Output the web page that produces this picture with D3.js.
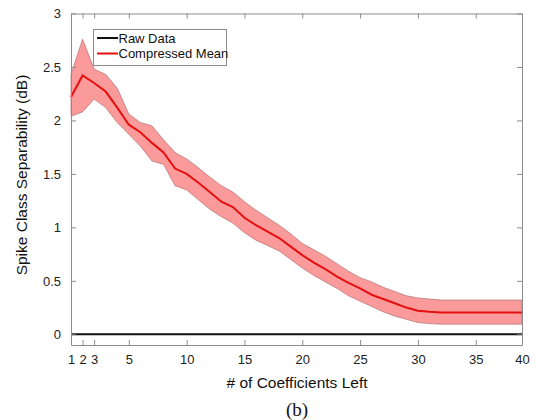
<!DOCTYPE html>
<html><head><meta charset="utf-8">
<script src="https://cdn.jsdelivr.net/npm/d3@7"></script>
<style>body{margin:0;background:#fff}svg{display:block}text{font-family:"Liberation Sans",Arial,sans-serif}</style>
</head><body><svg id="c" width="536" height="420"></svg>
<script>
// x positions are plot indices (0..39); tick labels map them to coefficient counts
const xIndex = [0,1,2,3,4,5,6,7,8,9,10,11,12,13,14,15,16,17,18,19,20,21,22,23,24,25,26,27,28,29,30,31,32,33,34,35,36,37,38,39];
const meanVals = [2.22,2.42,2.35,2.27,2.12,1.96,1.89,1.79,1.70,1.55,1.50,1.42,1.33,1.24,1.19,1.09,1.02,0.96,0.90,0.82,0.74,0.67,0.61,0.54,0.48,0.43,0.37,0.33,0.29,0.25,0.22,0.21,0.205,0.205,0.205,0.205,0.205,0.205,0.205,0.205];
const upperVals = [2.43,2.76,2.48,2.43,2.30,2.06,1.98,1.95,1.82,1.70,1.64,1.56,1.47,1.39,1.33,1.24,1.16,1.09,1.02,0.94,0.85,0.79,0.73,0.66,0.59,0.53,0.49,0.44,0.40,0.36,0.34,0.33,0.32,0.32,0.32,0.32,0.32,0.32,0.32,0.32];
const lowerVals = [2.04,2.08,2.20,2.12,1.98,1.87,1.76,1.62,1.59,1.39,1.35,1.26,1.17,1.10,1.04,0.95,0.88,0.83,0.78,0.70,0.62,0.55,0.49,0.43,0.36,0.31,0.26,0.21,0.17,0.14,0.11,0.10,0.095,0.095,0.095,0.095,0.095,0.095,0.095,0.095];
const rawVals = [0,0,0,0,0,0,0,0,0,0,0,0,0,0,0,0,0,0,0,0,0,0,0,0,0,0,0,0,0,0,0,0,0,0,0,0,0,0,0,0];
const xTickPos = [0,1,2,5,10,15,20,25,30,35,39];
const xTickLabels = ["1","2","3","5","10","15","20","25","30","35","40"];
const yTicks = [0,0.5,1,1.5,2,2.5,3];
const yTickLabels = ["0","0.5","1","1.5","2","2.5","3"];
const legendLabels = ["Raw Data","Compressed Mean"];

const svg = d3.select("#c");
const L=71,R=522,T=13.5,B=345;
const x = d3.scaleLinear().domain([0,39]).range([L,R]);
const y = d3.scaleLinear().domain([-0.1,3]).range([B,T]);
const axisCol="#8c8c8c";

// band
const area = d3.area().x((d,i)=>x(xIndex[i])).y0((d,i)=>y(lowerVals[i])).y1((d,i)=>y(upperVals[i]));
svg.append("path").datum(meanVals).attr("d",area).attr("fill","#fa9a9a").attr("stroke","#b07070").attr("stroke-width",0.7);
// mean line
const line = vals => d3.line().x((d,i)=>x(xIndex[i])).y(d=>y(d))(vals);
svg.append("path").attr("d",line(meanVals)).attr("fill","none").attr("stroke","#e41010").attr("stroke-width",2);
svg.append("path").attr("d",line(rawVals)).attr("fill","none").attr("stroke","#111").attr("stroke-width",2);

// axes (MATLAB-style inward ticks, box)
const tl=5;
const gB = svg.append("g").attr("transform",`translate(0,${B})`).call(d3.axisBottom(x).tickValues(xTickPos).tickFormat((d,i)=>xTickLabels[i]).tickSizeInner(-tl).tickSizeOuter(0).tickPadding(10));
const gT = svg.append("g").attr("transform",`translate(0,${T})`).call(d3.axisTop(x).tickValues(xTickPos).tickFormat("").tickSizeInner(-tl).tickSizeOuter(0));
const gL = svg.append("g").attr("transform",`translate(${L},0)`).call(d3.axisLeft(y).tickValues(yTicks).tickFormat((d,i)=>yTickLabels[i]).tickSizeInner(-tl).tickSizeOuter(0).tickPadding(10));
const gR = svg.append("g").attr("transform",`translate(${R},0)`).call(d3.axisRight(y).tickValues(yTicks).tickFormat("").tickSizeInner(-tl).tickSizeOuter(0));
[gB,gT,gL,gR].forEach(g=>{g.selectAll("path,line").attr("stroke",axisCol);g.selectAll("text").attr("fill","#222").style("font-size","13px").style("font-family","'Liberation Sans',Arial,sans-serif");});

// axis titles
svg.append("text").attr("x",297).attr("y",388).attr("text-anchor","middle").style("font-size","15.5px").attr("fill","#111").text("# of Coefficients Left");
svg.append("text").attr("transform","translate(27,175) rotate(-90)").attr("text-anchor","middle").style("font-size","15.5px").attr("fill","#111").text("Spike Class Separability (dB)");
svg.append("text").attr("x",297).attr("y",416).attr("text-anchor","middle").style("font-family","'Liberation Serif','Times New Roman',serif").style("font-size","19px").attr("fill","#111").text("(b)");

// legend
const lg = svg.append("g");
lg.append("rect").attr("x",93.5).attr("y",29.5).attr("width",133).attr("height",36).attr("fill","#fff").attr("stroke","#8c8c8c");
const lcol=["#111","#e41010"];
legendLabels.forEach((t,i)=>{
  const yy=38+i*15.5;
  lg.append("line").attr("x1",97).attr("x2",118).attr("y1",yy).attr("y2",yy).attr("stroke",lcol[i]).attr("stroke-width",2);
  lg.append("text").attr("x",118.5).attr("y",yy+4.5).style("font-size","13px").attr("fill","#111").text(t);
});
</script></body></html>
